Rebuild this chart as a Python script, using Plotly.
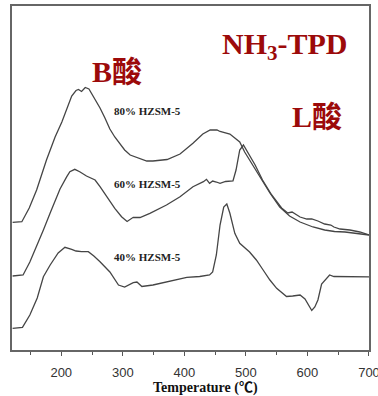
import plotly.graph_objects as go

# Temperature (°C) and signal (a.u.)
t80 = [121, 136, 148, 160, 176, 190, 201, 209, 217, 224, 228, 233, 239, 245, 249, 256, 263, 271,
       279, 287, 295, 303, 312, 328, 339, 349, 372, 393, 414, 430, 442, 453, 458, 474, 490, 498,
       506, 523, 539, 555, 571, 588, 609, 628, 644, 661, 677, 700]
s80 = [127.7, 128.3, 142, 160, 190, 213, 228, 242, 254, 259.5, 260.5, 258.5, 262.5, 261, 257, 249,
       242, 232, 221, 213, 207, 200, 195, 191, 189, 189, 190.5, 196, 206.7, 216, 220, 220, 218.5,
       216, 208, 198, 190, 172, 157, 143, 134, 128, 123, 120, 118.5, 118, 116.5, 115]

t60 = [121, 138, 149, 161, 171, 182, 190, 198, 209, 214, 222, 230, 241, 255, 263, 274, 287, 298,
       307, 317, 328, 344, 371, 393, 414, 431, 436, 441, 446, 452, 458, 467, 479, 484, 487, 490,
       496, 503, 515, 527, 542, 558, 568, 575, 588, 599, 607, 617, 628, 638, 643, 653, 669, 685, 700]
s60 = [74, 75, 88, 105, 120, 137, 150, 161, 173.3, 178.3, 180.7, 178.3, 174, 170, 163.3, 153.3,
       141.7, 133.3, 128.5, 132.7, 132.5, 136.7, 145, 153.3, 163.3, 168.3, 170.7, 166.7, 169, 168,
       166.7, 168.5, 169, 180, 192, 200, 205, 198, 185, 170, 155, 142, 137, 138, 133, 131, 131, 129,
       126, 125, 123, 121, 120, 118, 115]

t40 = [121, 137, 149, 161, 171, 182, 195, 206, 217, 224, 233, 244, 253, 263, 279, 293, 303, 317,
       323, 331, 349, 371, 404, 425, 441, 446, 452, 458, 464, 469, 474, 482, 490, 506, 517, 528,
       539, 550, 566, 576, 588, 596, 602, 607, 612, 617, 623, 631, 636, 643, 653, 700]
s40 = [21.7, 22.7, 35, 52, 73.3, 85, 97, 102.7, 100.7, 99, 98.3, 98.3, 94, 88.3, 78, 65, 63, 67.3,
       68, 63.5, 65, 68.3, 72.7, 73.5, 75, 78, 95, 125, 143, 146, 136.7, 116.7, 106.7, 98, 90, 80,
       70, 61.7, 53.5, 54, 55, 51, 44, 39.5, 43, 50, 66, 71.7, 75, 73.5, 73.5, 73.2]

series_labels = ["80% HZSM-5", "60% HZSM-5", "40% HZSM-5"]
xtick_vals = [200, 300, 400, 500, 600, 700]

line_col = "#454545"
red = "#9c0a0a"
serif = "Liberation Serif, Times New Roman, Noto Sans CJK SC, serif"

fig = go.Figure()
for t, s in [(t80, s80), (t60, s60), (t40, s40)]:
    fig.add_trace(go.Scatter(x=t, y=s, mode="lines",
                             line=dict(color=line_col, width=1.3), showlegend=False,
                             hoverinfo="skip", cliponaxis=False))

W, H = 378, 396
L, R, T, B = 12, 9, 6, 46
pw, ph = W - L - R, H - T - B

def px(xp):
    return (xp - L) / pw

def py(yp):
    return (H - B - yp) / ph

def note(text, xc, yc, size, color):
    return dict(text=text, x=px(xc), y=py(yc), xref="paper", yref="paper",
                xanchor="center", yanchor="middle", showarrow=False,
                font=dict(family=serif, size=size, color=color, weight="bold"))

ann = [
    note("NH<sub>3</sub>-TPD", 285, 46, 30, red),
    note("B酸", 117, 71.5, 30, red),
    note("L酸", 317, 116.5, 30, red),
]
for lab, yy in zip(series_labels, [111, 184, 257]):
    ann.append(note(lab, 147.5, yy, 11, "#222"))
ann.append(note("Temperature (℃)", 205, 388, 14, "#111"))

fig.update_layout(
    width=W, height=H,
    margin=dict(l=L, r=R, t=T, b=B, pad=0, autoexpand=False),
    paper_bgcolor="white", plot_bgcolor="white",
    annotations=ann,
    xaxis=dict(range=[120, 700.01], tickvals=xtick_vals, ticks="outside", ticklen=4,
               tickwidth=1.2, tickcolor="#555", ticklabelstandoff=5, ticklabeloverflow="allow",
               automargin=False,
               minor=dict(dtick=50, tick0=0, ticks="outside", ticklen=3, tickcolor="#555", tickwidth=1.2),
               showgrid=False, zeroline=False, showline=True, linecolor="#666", linewidth=2,
               mirror=True, tickfont=dict(family="Liberation Sans, Arial", size=13, color="#333")),
    yaxis=dict(range=[0, ph], showticklabels=False, ticks="", showgrid=False, zeroline=False,
               automargin=False,
               showline=True, linecolor="#666", linewidth=2, mirror=True),
)

fig.write_html("out.html")
